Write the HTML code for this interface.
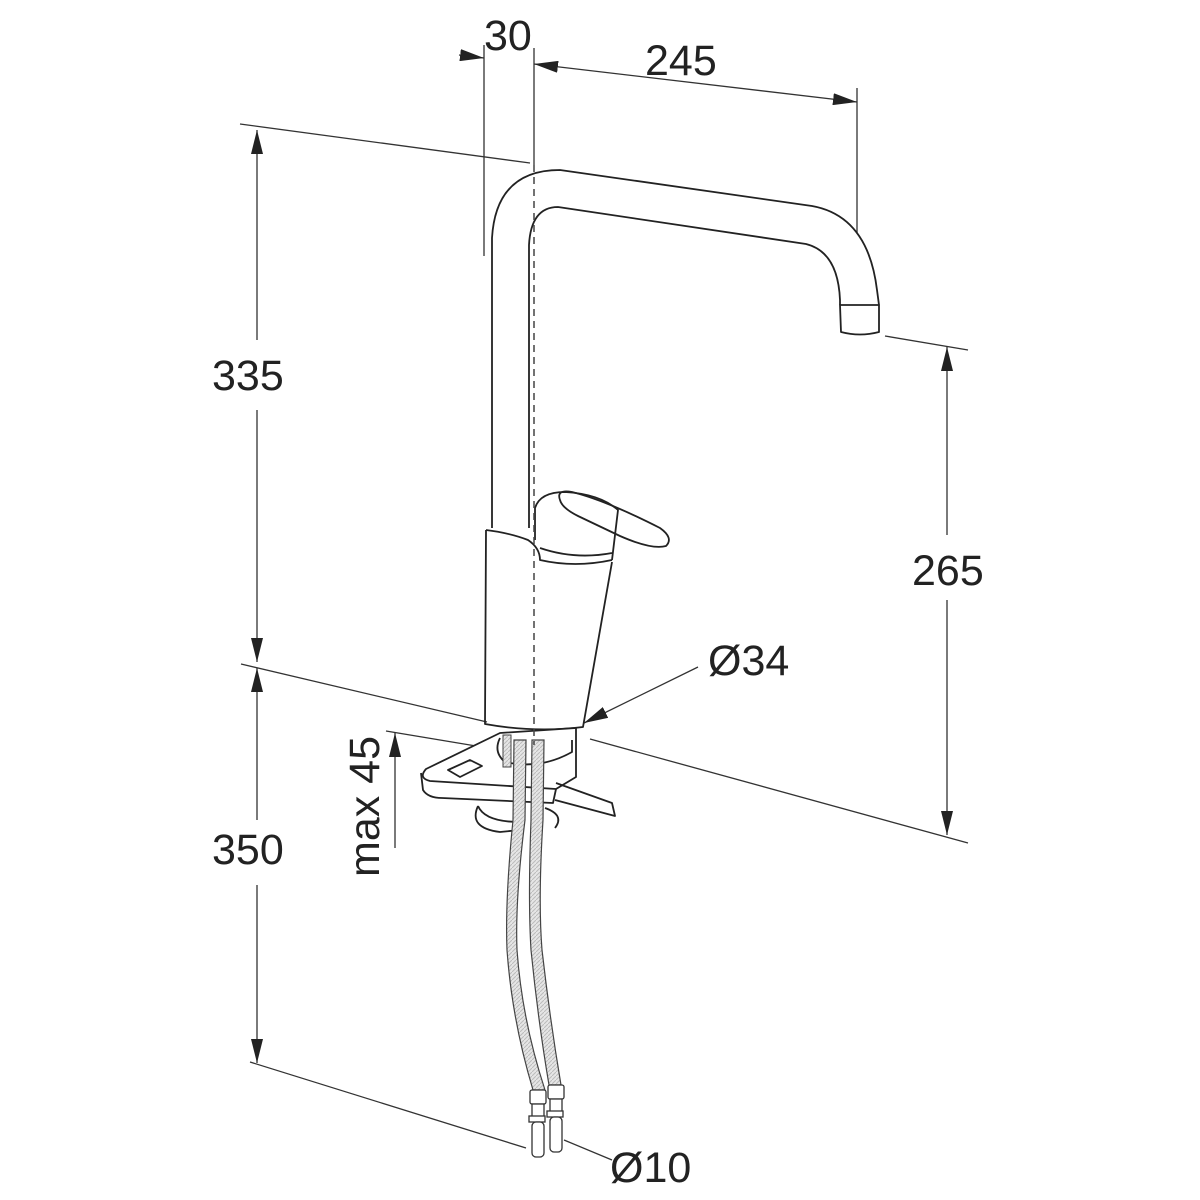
<!DOCTYPE html>
<html><head><meta charset="utf-8"><style>
html,body{margin:0;padding:0;background:#fff;}
svg{display:block}
text{font-family:"Liberation Sans",sans-serif;fill:#222;}
</style></head><body>
<svg width="1200" height="1200" viewBox="0 0 1200 1200" xmlns="http://www.w3.org/2000/svg">
<defs>
<marker id="b" viewBox="0 0 20 10" refX="20" refY="5" markerWidth="24" markerHeight="12" markerUnits="userSpaceOnUse" orient="auto-start-reverse"><path d="M0,0 L20,5 L0,10 Z" fill="#222"/></marker>
<pattern id="h" width="4" height="4" patternUnits="userSpaceOnUse"><rect width="4" height="4" fill="#e6e6e6"/><path d="M0,4 L4,0" stroke="#bbb" stroke-width="1"/></pattern>
</defs>
<g fill="none" stroke="#333" stroke-width="1.3">
<line x1="240" y1="124" x2="530" y2="163"/>
<line x1="241" y1="664" x2="487" y2="722"/>
<line x1="590" y1="739" x2="968" y2="843"/>
<line x1="386" y1="731" x2="482" y2="747"/>
<line x1="250" y1="1062" x2="526" y2="1148"/>
<line x1="885" y1="336" x2="968" y2="350"/>
<line x1="484" y1="45" x2="484" y2="256"/>
<line x1="534" y1="48" x2="534" y2="165"/>
<line x1="857" y1="88" x2="857" y2="233"/>
<line x1="257" y1="130" x2="257" y2="340" marker-start="url(#b)"/>
<line x1="257" y1="410" x2="257" y2="662" marker-end="url(#b)"/>
<line x1="257" y1="668" x2="257" y2="820" marker-start="url(#b)"/>
<line x1="257" y1="885" x2="257" y2="1063" marker-end="url(#b)"/>
<line x1="947" y1="347" x2="947" y2="535" marker-start="url(#b)"/>
<line x1="947" y1="600" x2="947" y2="835" marker-end="url(#b)"/>
<line x1="459" y1="55" x2="484" y2="58" marker-end="url(#b)"/>
<line x1="534" y1="64" x2="857" y2="102" marker-start="url(#b)" marker-end="url(#b)"/>
<line x1="395" y1="848" x2="395" y2="733" marker-end="url(#b)"/>
<line x1="698" y1="667" x2="584" y2="723" marker-end="url(#b)"/>
<line x1="612" y1="1160" x2="564" y2="1140"/>
</g>
<g fill="none" stroke="#222" stroke-width="1.8" stroke-linejoin="round">
<path d="M492,528 L492,238 Q496,170 560,170 L812,206 Q868,216 877,290 L879,305"/>
<path d="M529,528 L529,245 Q531,207 558,207 L806,244 Q838,252 840,300 L840,305"/>
<path d="M840,305 L879,305 L879,332 Q860,337 841,332 Z"/>
<path d="M486,530 L485,724 Q535,733 583,727 L612,562"/>
<path d="M486,530 Q510,533 528,540 Q540,548 540,560 Q575,568 612,560"/>
<path d="M535,540 L535,508 Q540,492 565,492 Q600,494 618,510 L612,560"/>
<path d="M540,548 Q575,560 612,553"/>
<path d="M560,500 Q556,489 572,492 Q605,500 660,528 Q674,538 666,546 Q652,550 620,536 L578,516 Q562,508 560,500 Z"/>
<!-- bracket -->
<path d="M426,769 L500,733 L576,728 L576,777 L556,789 L430,781 Q418,778 426,769 Z" fill="#fff"/>
<path d="M421,773 L423,790 Q428,798 442,798 L553,803 L556,789"/>
<path d="M448,770 L470,760 L482,766 L460,777 Z"/>
<path d="M500,738 Q493,752 505,762 Q540,770 572,752 L572,740"/>
<path d="M556,783 L612,803 L615,816 L555,800"/>
<path d="M478,806 Q468,828 500,832 L520,830 M478,806 Q485,822 520,822"/>
<path d="M545,808 Q565,815 555,828"/>
</g>
<rect x="503" y="735" width="8" height="32" fill="url(#h)" stroke="#444" stroke-width="1"/>
<g stroke="#444" stroke-width="1.2" fill="url(#h)">
<path d="M514,740 L513,820 Q505,900 507,950 Q512,1020 533,1090 L545,1090 Q522,1020 517,950 Q515,900 525,820 L526,740 Z"/>
<path d="M532,740 L531,820 Q528,900 531,950 Q538,1020 549,1085 L561,1085 Q550,1020 542,950 Q538,900 543,820 L544,740 Z"/>
</g>
<line x1="534" y1="165" x2="534" y2="745" stroke="#444" stroke-width="1.5" stroke-dasharray="7,5"/>
<g stroke="#333" stroke-width="1.3" fill="#fff">
<rect x="530" y="1090" width="16" height="14" rx="2"/>
<rect x="532" y="1104" width="12" height="14"/>
<rect x="529" y="1116" width="16" height="6"/>
<rect x="532" y="1122" width="12" height="35" rx="4"/>
<rect x="548" y="1085" width="16" height="14" rx="2"/>
<rect x="550" y="1099" width="12" height="14"/>
<rect x="547" y="1111" width="16" height="6"/>
<rect x="550" y="1117" width="12" height="35" rx="4"/>
</g>
<g font-size="43">
<text x="484" y="50">30</text>
<text x="645" y="75">245</text>
<text x="212" y="390">335</text>
<text x="212" y="864">350</text>
<text x="912" y="585">265</text>
<text x="708" y="675">Ø34</text>
<text x="610" y="1182">Ø10</text>
<text transform="translate(379,877) rotate(-90)">max 45</text>
</g>
</svg>
</body></html>
